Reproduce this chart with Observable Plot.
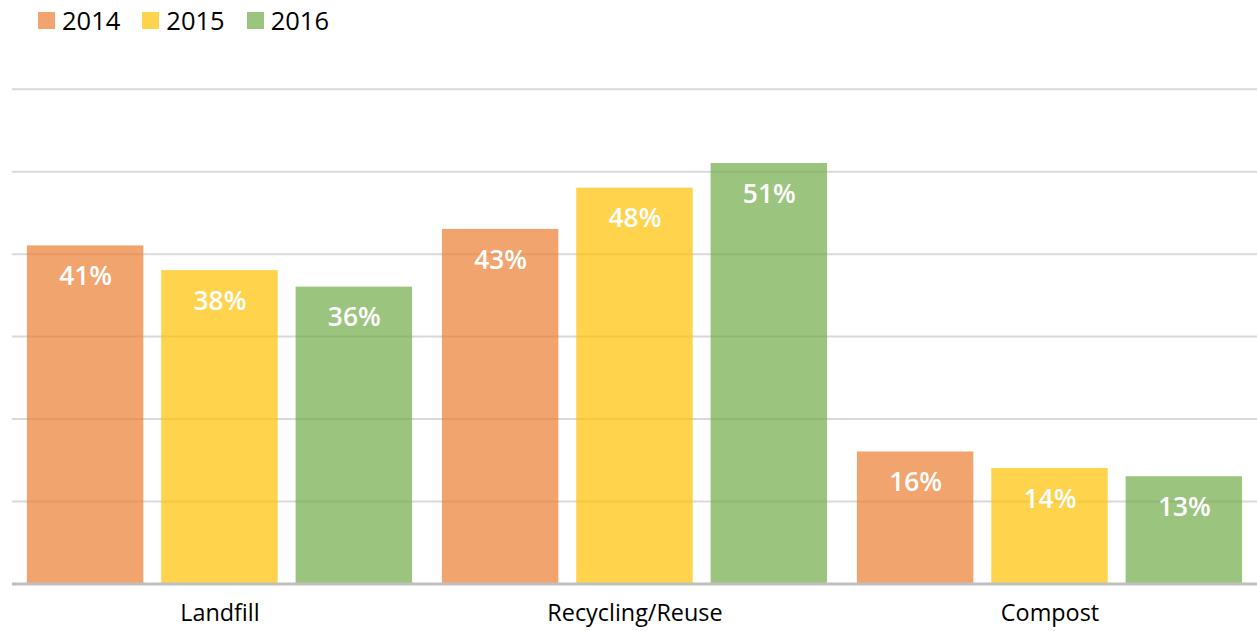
<!DOCTYPE html>
<html><head><meta charset="utf-8">
<script src="https://cdn.jsdelivr.net/npm/d3@7"></script>
<script src="https://cdn.jsdelivr.net/npm/@observablehq/plot@0.6"></script>
<style>
html,body{margin:0;padding:0;background:#fff;overflow:hidden;width:1257px;height:631px}
#legend{height:40px;display:flex;align-items:center;padding-left:38px;font-family:"Open Sans";font-size:25.5px;color:#000;box-sizing:border-box}
.item{display:flex;align-items:center;margin-right:22px}
.sw{width:17px;height:17px;margin-right:7px}
#chart{width:1257px;height:591px;overflow:hidden}
#chart svg{display:block;overflow:visible}
</style></head><body>
<div id="legend"></div>
<div id="chart"></div>
<script>
const categories = ["Landfill", "Recycling/Reuse", "Compost"];
const years = ["2014", "2015", "2016"];
const values2014 = [41, 43, 16];
const values2015 = [38, 48, 14];
const values2016 = [36, 51, 13];
const gridTicks = [10, 20, 30, 40, 50, 60];
const colors = ["#ED7D31", "#FFC000", "#70AD47"];

const series = [values2014, values2015, values2016];
const data = [];
categories.forEach((c, i) => {
  series.forEach((arr, j) => data.push({category: c, year: years[j], value: arr[i]}));
});

const legend = document.getElementById("legend");
years.forEach((y, j) => {
  const it = document.createElement("div");
  it.className = "item";
  const sw = document.createElement("span");
  sw.className = "sw";
  sw.style.background = colors[j];
  sw.style.opacity = 0.7;
  const t = document.createElement("span");
  t.textContent = y;
  it.appendChild(sw); it.appendChild(t);
  legend.appendChild(it);
});

const chart = Plot.plot({
  width: 1263, height: 591,
  marginLeft: 12, marginRight: 0, marginTop: 49, marginBottom: 45,
  style: {fontFamily: "Open Sans", background: "#fff"},
  fx: {domain: categories, padding: 0, label: null, axis: null},
  x: {domain: years, paddingInner: 0.13, paddingOuter: 0.1, axis: null},
  y: {domain: [0, 60], axis: null},
  color: {domain: years, range: colors},
  marks: [
    Plot.ruleY(gridTicks, {stroke: "#D9D9D9", strokeWidth: 2}),
    Plot.barY(data, {fx: "category", x: "year", y: "value", fill: "year", fillOpacity: 0.7}),
    Plot.ruleY([0], {stroke: "#BFBFBF", strokeWidth: 3}),
    Plot.text(data, {fx: "category", x: "year", y: "value", text: d => d.value + "%", fill: "white", dy: 31, fontSize: 26.5, fontWeight: 600}),
    Plot.axisFx({anchor: "bottom", tickSize: 0, tickPadding: 21, fontSize: 23.5, fill: "#000", label: null})
  ]
});
document.getElementById("chart").appendChild(chart);
</script>
</body></html>
